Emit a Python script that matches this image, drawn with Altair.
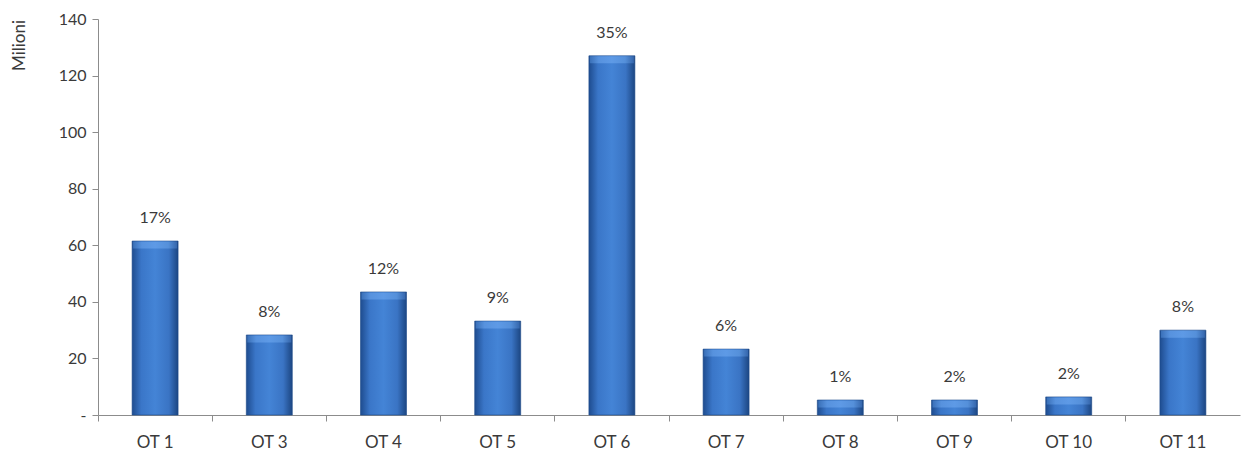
import altair as alt
import pandas as pd

categories = ["OT 1", "OT 3", "OT 4", "OT 5", "OT 6", "OT 7", "OT 8", "OT 9", "OT 10", "OT 11"]
values = [61.5, 28.3, 43.5, 33.2, 127.0, 23.3, 5.3, 5.3, 6.4, 30.0]
shares = ["17%", "8%", "12%", "9%", "35%", "6%", "1%", "2%", "2%", "8%"]

df = pd.DataFrame({"cat": categories, "val": values, "share": shares})

FONT = "Lato"
FS = 16
TXT = "#3a3a3a"
AX = "#8c8c8c"

x_enc = alt.X("cat:N", sort=categories, title=None,
              scale=alt.Scale(paddingInner=0, paddingOuter=0),
              axis=alt.Axis(labelAngle=0, labelFont=FONT, labelFontSize=17, labelFontWeight="normal",
                            labelColor=TXT, labelPadding=13, domainColor=AX, tickColor=AX,
                            tickSize=6, bandPosition=0, labelBound=False))
y_enc = alt.Y("val:Q", title="Milioni",
              scale=alt.Scale(domain=[0, 140], nice=False),
              axis=alt.Axis(values=[0, 20, 40, 60, 80, 100, 120, 140], grid=False,
                            labelExpr="datum.value == 0 ? '-' : datum.label",
                            labelFont=FONT, labelFontSize=FS, labelFontWeight="normal",
                            labelColor=TXT, labelPadding=6,
                            domainColor=AX, tickColor=AX, tickSize=6,
                            titleFont=FONT, titleFontSize=17, titleFontWeight="normal",
                            titleColor=TXT, titleAngle=-90, titleX=-79, titleY=26,
                            titleAlign="center", titleBaseline="middle"))

grad = alt.Gradient(gradient="linear", x1=0, x2=1, y1=0, y2=0, stops=[
    alt.GradientStop(color="#1e4c8f", offset=0),
    alt.GradientStop(color="#3a76c8", offset=0.2),
    alt.GradientStop(color="#4484d6", offset=0.5),
    alt.GradientStop(color="#3a74c4", offset=0.8),
    alt.GradientStop(color="#1c4682", offset=1),
])
bevel = alt.Gradient(gradient="linear", x1=0, x2=1, y1=0, y2=0, stops=[
    alt.GradientStop(color="#3a70b8", offset=0),
    alt.GradientStop(color="#5792de", offset=0.2),
    alt.GradientStop(color="#5e9ae6", offset=0.5),
    alt.GradientStop(color="#5590da", offset=0.8),
    alt.GradientStop(color="#3566ac", offset=1),
])

base = alt.Chart(df)
bars = base.mark_bar(size=46, color=grad, stroke="#1d4a8a", strokeWidth=0.6).encode(x=x_enc, y=y_enc)
tops = base.mark_tick(size=44, thickness=7, color=bevel, opacity=1, yOffset=4).encode(
    x=alt.X("cat:N", sort=categories), y=alt.Y("val:Q"))
labels = base.mark_text(font=FONT, fontSize=FS, fontWeight="normal", color=TXT, dy=-23,
                        baseline="middle").encode(
    x=alt.X("cat:N", sort=categories), y=alt.Y("val:Q"), text="share:N")

chart = alt.layer(bars, tops, labels).properties(
    width=1142, height=396,
    autosize=alt.AutoSizeParams(type="none"),
    padding={"left": 98, "top": 19, "right": 2, "bottom": 39},
    background="white",
).configure_view(stroke=None)

chart.save("out.html", embed_options={"renderer": "svg", "actions": False})
